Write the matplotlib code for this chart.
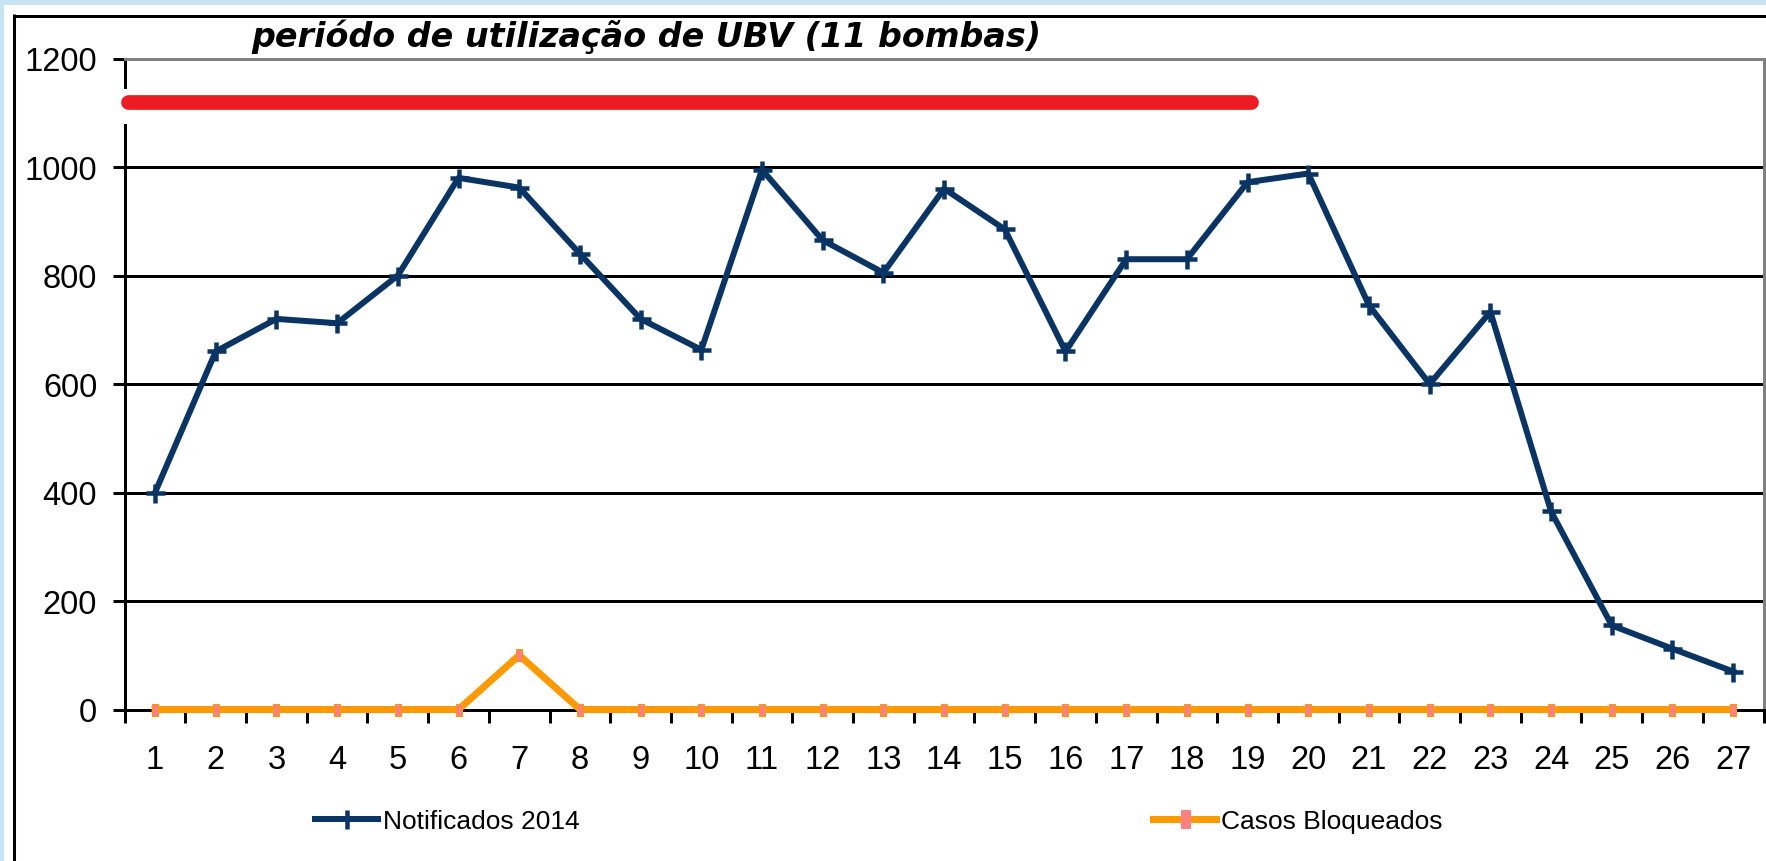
import matplotlib
matplotlib.use("Agg")
import matplotlib.pyplot as plt
from matplotlib.lines import Line2D
import numpy as np

# ---- data ----
weeks = list(range(1, 28))
notificados_2014 = [400, 660, 720, 712, 800, 980, 962, 840, 720, 663, 995, 865, 805, 960,
                    885, 660, 830, 830, 972, 988, 745, 600, 733, 365, 155, 112, 70]
casos_bloqueados = [0, 0, 0, 0, 0, 0, 100, 0, 0, 0, 0, 0, 0, 0,
                    0, 0, 0, 0, 0, 0, 0, 0, 0, 0, 0, 0, 0]
y_ticks = [0, 200, 400, 600, 800, 1000, 1200]
ubv_period = [0.55, 19.05]
ubv_level = 1120
title_text = "periódo de utilização de UBV (11 bombas)"
series_names = ["Notificados 2014", "Casos Bloqueados"]

W, H = 1766, 862
DPI = 100
PX = 72.0 / DPI  # points per pixel

fig = plt.figure(figsize=(W / DPI, H / DPI), dpi=DPI)
fig.patch.set_facecolor("white")

# light blue slide bands
fig.add_artist(plt.Rectangle((0, 1 - 6 / H), 1, 6 / H, transform=fig.transFigure,
                             facecolor="#C8E4F4", edgecolor="none"))
fig.add_artist(plt.Rectangle((0, 0), 4 / W, 1, transform=fig.transFigure,
                             facecolor="#C8E4F4", edgecolor="none"))
# black outer frame (top and left)
fig.add_artist(Line2D([13.5 / W, 1], [1 - 16.5 / H, 1 - 16.5 / H], transform=fig.transFigure,
                      color="black", lw=3 * PX, solid_capstyle="butt"))
fig.add_artist(Line2D([14.5 / W, 14.5 / W], [0, 1 - 15 / H], transform=fig.transFigure,
                      color="black", lw=3 * PX, solid_capstyle="butt"))

left, right = 124.7, 1763.5
top, bottom = 59.5, 710.5
ax = fig.add_axes([left / W, 1 - bottom / H, (right - left) / W, (bottom - top) / H])
ax.set_xlim(0.5, len(weeks) + 0.5)
ax.set_ylim(y_ticks[0], y_ticks[-1])

lw_axis = 3 * PX
for s in ["left", "bottom"]:
    ax.spines[s].set_color("black")
    ax.spines[s].set_linewidth(lw_axis)
for s in ["top", "right"]:
    ax.spines[s].set_color("#808080")
    ax.spines[s].set_linewidth(lw_axis)

# horizontal gridlines
for yv in y_ticks[1:-1]:
    ax.axhline(yv, color="black", lw=lw_axis, zorder=1)

tick_font = dict(family=["Liberation Sans", "DejaVu Sans"], size=23.5)
ax.set_yticks(y_ticks)
ax.set_yticklabels([str(v) for v in y_ticks], fontdict=tick_font)
ax.tick_params(axis="y", direction="out", length=12.5 * PX, width=lw_axis, pad=15 * PX, colors="black")

ax.set_xticks(weeks)
ax.set_xticklabels([str(w) for w in weeks], fontdict=tick_font)
ax.set_xticks(np.arange(0.5, len(weeks) + 1, 1.0), minor=True)
ax.tick_params(axis="x", which="major", length=0, pad=35 * PX)
ax.tick_params(axis="x", which="minor", direction="out", length=12.5 * PX, width=lw_axis)

navy = "#0A3463"
orange = "#FF9900"
pink = "#FF8080"
rect_marker = [(-0.5, -1), (0.5, -1), (0.5, 1), (-0.5, 1), (-0.5, -1)]

ax.plot(weeks, notificados_2014, color=navy, lw=6 * PX, marker="+", markersize=19 * PX,
        markeredgewidth=4.5 * PX, zorder=5, clip_on=False)
ax.plot(weeks, casos_bloqueados, color=orange, lw=7 * PX, marker=rect_marker,
        markersize=12 * PX, markerfacecolor=pink, markeredgecolor=orange,
        markeredgewidth=1 * PX, zorder=6, clip_on=False)

# UBV period bar with white gap behind on the axis
ax.plot([0.35, 0.7], [ubv_level - 8, ubv_level - 8], color="white", lw=35 * PX,
        solid_capstyle="butt", zorder=3, clip_on=False)
ax.plot(ubv_period, [ubv_level, ubv_level], color="#ED1C24", lw=14.7 * PX,
        solid_capstyle="round", zorder=4, clip_on=False)

fig.text(646 / W, 1 - 46.7 / H, title_text, ha="center", va="baseline",
         fontsize=24, fontweight="bold", fontstyle="italic", family="DejaVu Sans")

# legends
leg_font = dict(family=["Liberation Sans", "DejaVu Sans"], size=19)
h1 = Line2D([], [], color=navy, lw=6 * PX, marker="+", markersize=19 * PX, markeredgewidth=4.5 * PX)
h2 = Line2D([], [], color=orange, lw=7 * PX, marker=rect_marker, markersize=18 * PX,
            markerfacecolor=pink, markeredgecolor=pink, markeredgewidth=1 * PX)
for h, name, x0 in [(h1, series_names[0], 315), (h2, series_names[1], 1153)]:
    lg = fig.legend([h], [name], loc="center left", bbox_to_anchor=(x0 / W, 1 - 822 / H),
                    frameon=False, borderpad=0, borderaxespad=0, handlelength=63 * PX / 19,
                    handletextpad=5 * PX / 19, prop=leg_font)

fig.savefig("out.png", dpi=DPI, facecolor=fig.get_facecolor())
